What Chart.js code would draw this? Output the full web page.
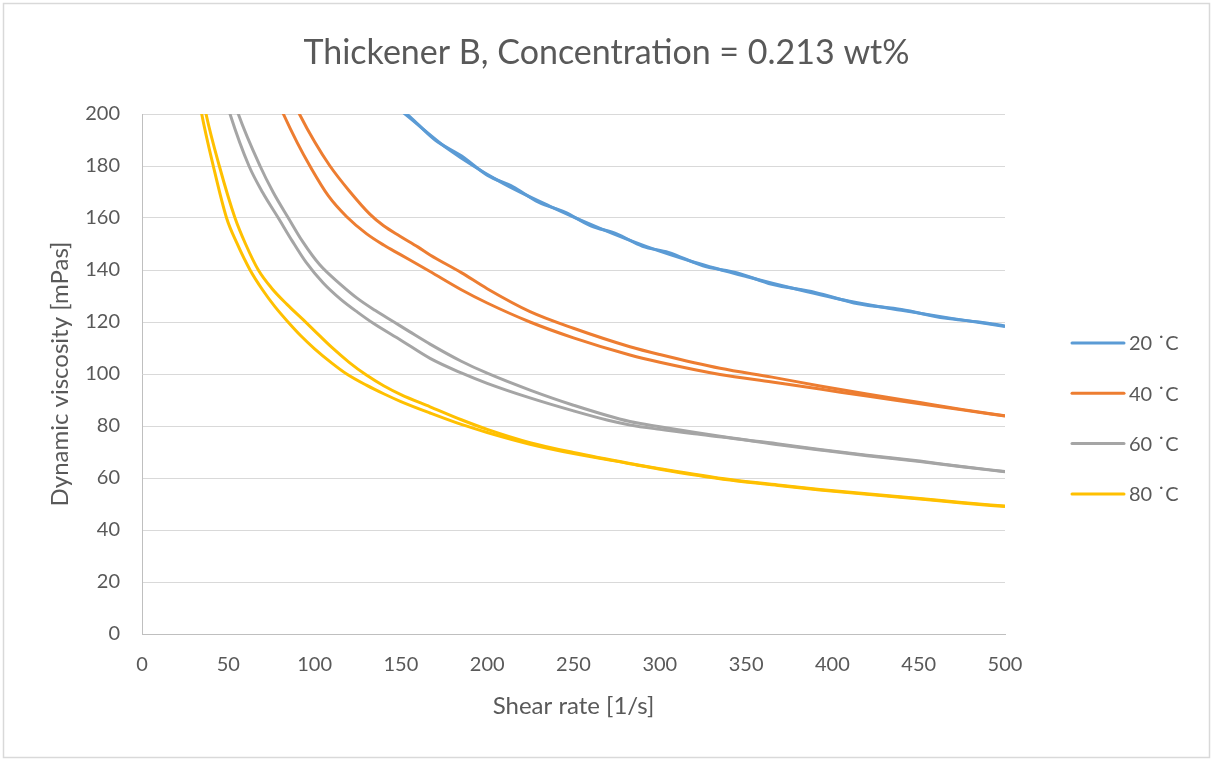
<!DOCTYPE html>
<html>
<head>
<meta charset="utf-8">
<script src="https://cdn.jsdelivr.net/npm/chart.js@4.4.1/dist/chart.umd.min.js"></script>
<style>
  html, body { margin: 0; padding: 0; background: #fff; }
  #wrap { position: relative; width: 1213px; height: 761px; }
</style>
</head>
<body>
<div id="wrap"><canvas id="myChart"></canvas></div>
<script>
// each temperature was measured twice (two sweeps), so two curves per colour
const temps = ['20 ˙C', '40 ˙C', '60 ˙C', '80 ˙C'];
const colors = ['#5B9BD5', '#ED7D31', '#A5A5A5', '#FFC000'];

const shear20a = [148, 152.4, 178.4, 207.4, 236.4, 265.4, 292.4, 320, 350, 380, 410, 440, 470, 500];
const visc20a  = [202.3, 200, 186, 174, 164.5, 156, 149, 143, 137.5, 132.5, 128, 124.5, 121.3, 118.3];
const shear20b = [150, 155, 170, 185, 200, 215, 230, 245, 260, 275, 290, 305, 325, 345, 365, 390, 415, 440, 465, 485, 500];
const visc20b  = [202, 199.1, 189.9, 183.9, 176.5, 172, 166, 162.3, 157, 153.9, 149.1, 146.8, 141.6, 138.9, 134.5, 131.4, 127, 124.8, 121.5, 120, 118.5];

const shear40a = [77, 81.9, 90, 97.3, 108, 118.6, 130, 140, 149.5, 166.9, 185, 200, 224.8, 250, 282.7, 300, 334.9, 365, 392.8, 420, 450.7, 475, 500];
const visc40a  = [207.5, 200, 188.9, 180, 168.5, 160.5, 154, 149.6, 146, 139.4, 132.4, 127.3, 120, 113.9, 107.3, 104.5, 99.8, 96.9, 94.2, 91.5, 88.6, 86.2, 83.8];
const shear40b = [86, 91.2, 100, 108.9, 120, 132, 140, 149.5, 160, 166.9, 185, 200, 224.8, 250, 282.7, 300, 334.9, 365, 392.8, 420, 450.7, 475, 500];
const visc40b  = [207.2, 200, 189.3, 180, 170.5, 161.5, 157, 153, 148.8, 145.8, 139, 132.8, 124, 117.6, 110.5, 107.5, 102.2, 98.8, 95.4, 92.3, 89, 86.4, 83.9];

const shear60a = [46, 51, 62, 70, 79, 87, 95, 105, 115, 125, 134, 150, 166.9, 185, 200, 224.8, 250, 270, 282.7, 300, 320, 340.7, 370, 392.8, 420, 450.7, 475, 500];
const visc60a  = [211.7, 200, 180, 169.7, 160, 151.2, 143, 135, 128.8, 123.7, 119.5, 113, 106, 100.4, 96.4, 90.8, 85.8, 82.2, 80.4, 78.7, 77, 75.4, 72.7, 70.8, 68.6, 66.3, 64.3, 62.4];
const shear60b = [50, 55.8, 68.4, 76, 84.8, 93, 103, 115, 125, 135, 146, 155, 166.9, 185, 200, 224.8, 250, 282.7, 300, 340.7, 370, 392.8, 420, 450.7, 475, 500];
const visc60b  = [212.4, 200, 180, 169.9, 160, 151, 142, 134.5, 129, 124.5, 120, 116.3, 111.5, 104.9, 100.3, 93.8, 88, 81.7, 79.7, 75.5, 73, 71, 68.8, 66.5, 64.4, 62.5];

const shear80a = [30, 34.6, 41.3, 49, 55, 62.6, 70, 77, 84.6, 92, 100, 110, 118.6, 130, 140, 150, 166.9, 185, 200, 224.8, 250, 282.7, 300, 340.7, 370, 392.8, 420, 450.7, 475, 500];
const visc80a  = [218, 200, 180, 160, 150.3, 140, 132.2, 125.9, 120, 114.7, 109.7, 104.2, 100, 95.7, 92.4, 89.4, 85, 80.6, 77.5, 73, 69.4, 65.5, 63.4, 59.2, 57, 55.4, 53.7, 51.9, 50.4, 49];
const shear80b = [33, 37.1, 44.8, 53.9, 60, 67.4, 75, 84, 93.5, 100, 110, 120, 130, 140, 150, 166.9, 185, 200, 224.8, 250, 282.7, 300, 340.7, 370, 392.8, 420, 450.7, 475, 500];
const visc80b  = [214.6, 200, 180, 160, 150, 140, 133.1, 126.8, 120.8, 116.6, 110.2, 104.5, 99.6, 95.5, 92.1, 87.4, 82.4, 78.7, 73.6, 69.8, 65.6, 63.6, 59.4, 57.2, 55.6, 53.9, 52.1, 50.6, 49.2];

const xTicks = { min: 0, max: 500, step: 50 };
const yTicks = { min: 0, max: 200, step: 20 };

const curves = [
  [shear20a, visc20a, 0, true], [shear20b, visc20b, 0, false],
  [shear40a, visc40a, 1, true], [shear40b, visc40b, 1, false],
  [shear60a, visc60a, 2, true], [shear60b, visc60b, 2, false],
  [shear80a, visc80a, 3, true], [shear80b, visc80b, 3, false]
];

const textColor = '#595959';
const fontFamily = 'Lato, "Liberation Sans", sans-serif';

function toPoints(xs, ys) {
  return xs.map((x, i) => ({ x: x, y: ys[i] }));
}

const datasets = curves.map(c => ({
  label: temps[c[2]],
  inLegend: c[3],
  data: toPoints(c[0], c[1]),
  borderColor: colors[c[2]],
  backgroundColor: colors[c[2]],
  borderWidth: 3,
  pointRadius: 0,
  cubicInterpolationMode: 'monotone',
  fill: false,
  clip: 0
}));

// white page + thin frame
const frame = {
  id: 'frame',
  beforeDraw(chart) {
    const ctx = chart.ctx;
    ctx.save();
    ctx.fillStyle = '#fff';
    ctx.fillRect(0, 0, chart.width, chart.height);
    ctx.strokeStyle = '#d9d9d9';
    ctx.lineWidth = 1.5;
    ctx.strokeRect(3.5, 3.5, chart.width - 7, chart.height - 7);
    ctx.restore();
  }
};

// legend to the right, one entry per temperature
const sideLegend = {
  id: 'sideLegend',
  afterDraw(chart) {
    const ctx = chart.ctx;
    const area = chart.chartArea;
    ctx.save();
    ctx.font = '20px ' + fontFamily;
    ctx.textBaseline = 'middle';
    ctx.fillStyle = textColor;
    ctx.lineCap = 'round';
    let i = 0;
    chart.data.datasets.forEach(ds => {
      if (!ds.inLegend) return;
      const y = area.top + 229 + i * 50.3;
      const x = area.right + 67;
      ctx.strokeStyle = ds.borderColor;
      ctx.lineWidth = 3;
      ctx.beginPath();
      ctx.moveTo(x, y);
      ctx.lineTo(x + 52, y);
      ctx.stroke();
      ctx.fillText(ds.label, x + 57, y + 1);
      i++;
    });
    ctx.restore();
  }
};

document.addEventListener('DOMContentLoaded', function() {
  const ctx = document.getElementById('myChart');

  new Chart(ctx, {
    type: 'line',
    data: { datasets: datasets },
    plugins: [frame, sideLegend],
    options: {
      responsive: true,
      maintainAspectRatio: false,
      animation: false,
      layout: { padding: { left: 45.6, right: 45.6, top: 0, bottom: 40.6 } },
      plugins: {
        legend: { display: false },
        tooltip: { enabled: false },
        title: {
          display: true,
          text: 'Thickener B, Concentration = 0.213 wt%',
          color: textColor,
          font: { family: fontFamily, size: 34, weight: 'normal' },
          padding: { top: 32.6, bottom: 40.6 }
        }
      },
      scales: {
        x: {
          type: 'linear',
          min: xTicks.min,
          max: xTicks.max,
          grid: { display: false, drawTicks: false },
          border: { display: true, color: '#bfbfbf', width: 1 },
          ticks: {
            stepSize: xTicks.step,
            color: textColor,
            padding: 19,
            maxRotation: 0,
            font: { family: fontFamily, size: 20 }
          },
          title: {
            display: true,
            text: 'Shear rate [1/s]',
            color: textColor,
            padding: 0,
            font: { family: fontFamily, size: 24 }
          },
          afterFit: function(scale) { scale.height = 86.4; }
        },
        y: {
          min: yTicks.min,
          max: yTicks.max,
          grid: { color: '#d9d9d9', lineWidth: 1, drawTicks: false },
          border: { display: true, color: '#bfbfbf', width: 1 },
          ticks: {
            stepSize: yTicks.step,
            color: textColor,
            padding: 22,
            font: { family: fontFamily, size: 20 }
          },
          title: {
            display: true,
            text: 'Dynamic viscosity [mPas]',
            color: textColor,
            padding: 0,
            font: { family: fontFamily, size: 24 }
          },
          afterFit: function(scale) { scale.width = 96.4; }
        },
        // empty box on the right that keeps room for the legend
        side: {
          position: 'right',
          display: true,
          grid: { display: false, drawTicks: false },
          border: { display: false },
          ticks: { display: false },
          afterFit: function(scale) { scale.width = 162.4; }
        }
      }
    }
  });
});
</script>
</body>
</html>
